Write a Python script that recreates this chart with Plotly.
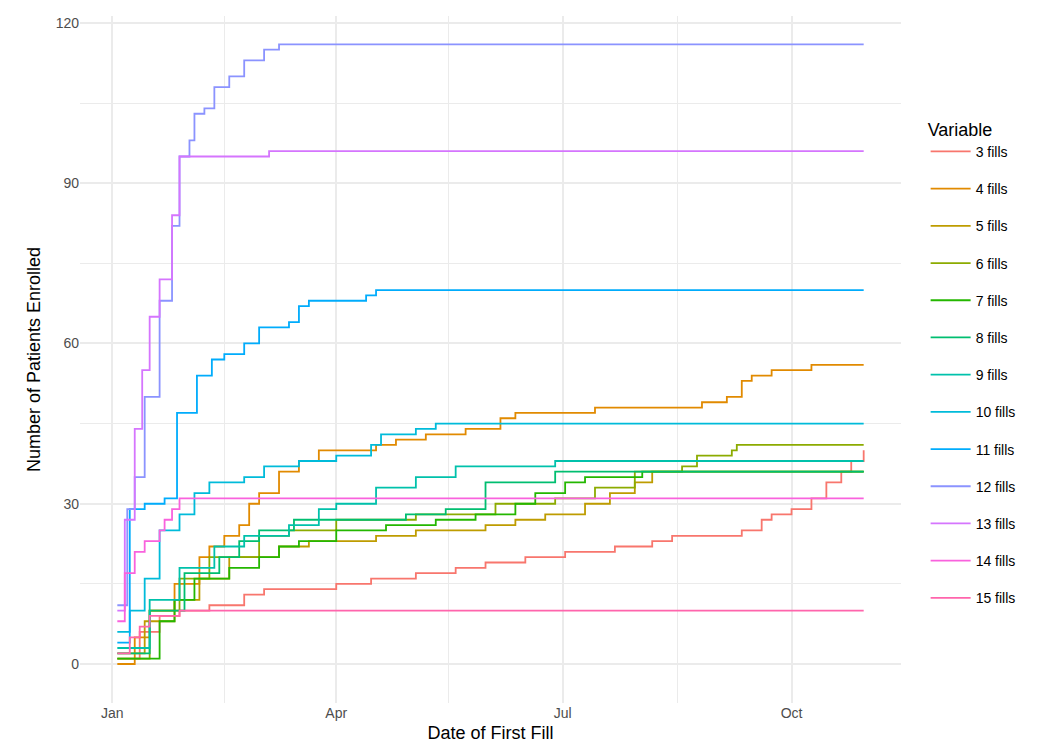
import plotly.graph_objects as go
import pandas as pd

start = pd.Timestamp("2017-01-01")
labels = ["3 fills","4 fills","5 fills","6 fills","7 fills","8 fills","9 fills","10 fills","11 fills","12 fills","13 fills","14 fills","15 fills"]
colors = ["#F8766D","#E18A00","#BE9C00","#8CAB00","#24B700","#00BE70","#00C1AB","#00BBDA","#00ACFC","#8B93FF","#D575FE","#F962DD","#FF65AC"]

# step points: (day of year offset, cumulative count)
s3_days = [2,11,19,27,39,53,61,90,104,122,138,150,166,182,202,217,225,253,261,265,273,281,287,293,297,302]
s3_vals = [1,6,9,10,11,13,14,15,16,17,18,19,20,21,22,23,24,25,27,28,29,31,34,36,38,40]
s4_days = [2,9,15,25,35,39,45,51,55,59,67,75,83,106,114,126,142,156,162,194,237,247,253,257,265,281,302]
s4_vals = [0,5,10,15,20,22,24,26,30,32,36,38,40,41,42,43,44,46,47,48,49,50,53,54,55,56,56]
s5_days = [2,13,25,35,47,67,79,106,122,150,162,174,190,200,210,217,302]
s5_vals = [2,8,12,16,20,22,23,24,25,26,27,28,30,32,34,36,36]
s6_days = [2,15,27,39,59,71,90,122,154,178,194,210,229,235,249,251,302]
s6_vals = [1,10,16,20,24,25,27,28,30,31,33,36,37,39,40,41,41]
s7_days = [2,19,25,33,47,59,67,75,90,110,130,146,162,170,182,190,213,302]
s7_vals = [1,8,12,16,18,20,22,23,25,26,27,28,30,32,34,35,36,36]
s8_days = [2,15,29,43,51,59,73,118,134,150,178,302]
s8_vals = [2,10,17,20,23,25,27,28,29,34,36,36]
s9_days = [2,15,27,41,53,71,83,90,106,122,138,178,302]
s9_vals = [3,12,18,22,24,26,29,30,33,35,37,38,38]
s10_days = [2,7,13,19,27,33,39,53,61,75,90,104,108,122,130,302]
s10_vals = [6,10,16,25,28,32,34,35,37,38,39,41,43,44,45,45]
s11_days = [2,7,13,21,26,34,40,45,53,59,71,75,79,102,106,302]
s11_vals = [4,29,30,31,47,54,57,58,60,63,64,67,68,69,70,70]
s12_days = [2,6,9,13,19,24,27,31,33,37,41,47,53,61,67,302]
s12_vals = [11,29,35,50,68,82,95,98,103,104,108,110,113,115,116,116]
s13_days = [2,5,9,12,15,19,24,27,63,302]
s13_vals = [10,27,44,55,65,72,84,95,96,96]
s14_days = [2,5,9,13,19,21,24,27,302]
s14_vals = [8,17,21,23,25,27,29,31,31]
s15_days = [2,7,11,15,27,302]
s15_vals = [2,5,7,9,10,10]

series = [(s3_days,s3_vals),(s4_days,s4_vals),(s5_days,s5_vals),(s6_days,s6_vals),(s7_days,s7_vals),
          (s8_days,s8_vals),(s9_days,s9_vals),(s10_days,s10_vals),(s11_days,s11_vals),(s12_days,s12_vals),
          (s13_days,s13_vals),(s14_days,s14_vals),(s15_days,s15_vals)]

fig = go.Figure()
for lab, col, (d, v) in zip(labels, colors, series):
    dates = [start + pd.Timedelta(days=x) for x in d]
    fig.add_trace(go.Scatter(x=dates, y=v, mode="lines", name=lab, legendgroup=lab,
                             line=dict(color=col, width=1.8, shape="hv")))

grid = "#EBEBEB"
fig.update_layout(
    width=1044, height=745, template="none",
    paper_bgcolor="white", plot_bgcolor="white",
    font=dict(family="Liberation Sans, Arial", size=14, color="#4D4D4D"),
    margin=dict(l=72, r=151, t=8, b=50, autoexpand=False),
    legend=dict(title=dict(text="Variable", font=dict(size=18, color="black")), x=1.03, y=0.495, yanchor="middle",
                font=dict(size=14, color="black"), tracegroupgap=16, itemwidth=40),
    xaxis=dict(title=dict(text="Date of First Fill", font=dict(size=18, color="black"), standoff=6),
               range=[start - pd.Timedelta(days=13), start + pd.Timedelta(days=317)],
               tickvals=[start, pd.Timestamp("2017-04-01"), pd.Timestamp("2017-07-01"), pd.Timestamp("2017-10-01")],
               ticktext=["Jan","Apr","Jul","Oct"],
               showgrid=True, gridcolor=grid, gridwidth=1.5, zeroline=False, showline=False, ticks="",
               minor=dict(tickvals=[pd.Timestamp("2017-02-15"), pd.Timestamp("2017-05-16"), pd.Timestamp("2017-08-16"), pd.Timestamp("2017-11-15")],
                          showgrid=True, gridcolor=grid, gridwidth=0.8)),
    yaxis=dict(title=dict(text="Number of Patients Enrolled", font=dict(size=18, color="black"), standoff=10),
               range=[-7.3, 121.3], tickvals=[0,30,60,90,120], showgrid=True, gridcolor=grid, gridwidth=1.5,
               zeroline=False, showline=False, ticks="",
               minor=dict(tickvals=[15,45,75,105], showgrid=True, gridcolor=grid, gridwidth=0.8)),
)
fig.write_html("out.html")
